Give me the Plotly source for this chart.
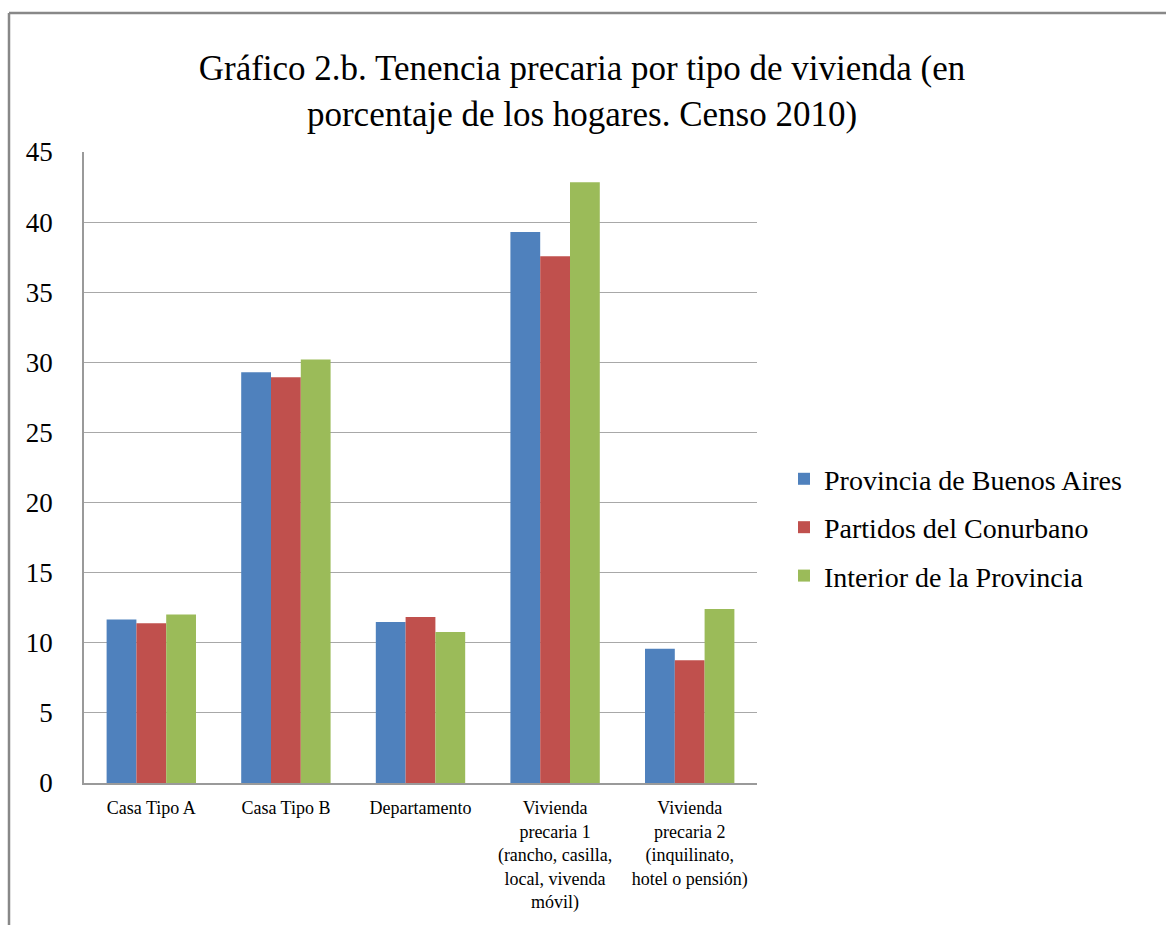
import plotly.graph_objects as go

categories = [
    "Casa Tipo A",
    "Casa Tipo B",
    "Departamento",
    "Vivienda<br>precaria 1<br>(rancho, casilla,<br>local, vivenda<br>móvil)",
    "Vivienda<br>precaria 2<br>(inquilinato,<br>hotel o pensión)",
]
series_names = ["Provincia de Buenos Aires", "Partidos del Conurbano", "Interior de la Provincia"]
provincia = [11.66, 29.29, 11.49, 39.29, 9.57]
conurbano = [11.40, 28.94, 11.84, 37.57, 8.75]
interior = [12.01, 30.21, 10.76, 42.84, 12.41]
colors = ["#4F81BD", "#C0504D", "#9BBB59"]
y_ticks = [0, 5, 10, 15, 20, 25, 30, 35, 40, 45]

FONT = "Liberation Serif, Times New Roman, serif"

fig = go.Figure()
for name, vals, col in zip(series_names, [provincia, conurbano, interior], colors):
    fig.add_trace(go.Bar(x=categories, y=vals, name=name, marker_color=col,
                         marker_line_width=0, legendgroup=name))

L, R, T, B = 84, 757, 152, 787
W, H = 1166, 925
pw, ph = R - L, B - T

def px_x(x):
    return (x - L) / pw

def px_y(y):
    return (B - y) / ph

fig.update_layout(
    width=W, height=H,
    margin=dict(l=L, r=W - R, t=T, b=H - B, pad=0),
    paper_bgcolor="white", plot_bgcolor="white",
    barmode="group", bargap=0.336, bargroupgap=0,
    font=dict(family=FONT, color="black"),
    title=dict(text="Gráfico 2.b. Tenencia precaria por tipo de vivienda (en<br>porcentaje de los hogares. Censo 2010)",
               x=582 / W, xanchor="center", y=1 - 80 / H, yanchor="middle",
               font=dict(family=FONT, size=35, color="black")),
    legend=dict(x=px_x(784), xanchor="left", y=px_y(456), yanchor="top",
                font=dict(family=FONT, size=28, color="black"),
                tracegroupgap=9, bgcolor="rgba(0,0,0,0)", itemwidth=30),
    showlegend=True,
)
fig.update_xaxes(showgrid=False, showline=True, linecolor="#9a9a9a", linewidth=1.5,
                 tickfont=dict(family=FONT, size=18, color="black"), ticks="",
                 tickangle=0, ticklabelstandoff=8)
fig.update_yaxes(range=[0, 45], tickvals=y_ticks, showgrid=True, gridcolor="#a8a8a8", gridwidth=1.3,
                 showline=True, linecolor="#9a9a9a", linewidth=1.5, zeroline=False,
                 tickfont=dict(family=FONT, size=27, color="black"), ticks="",
                 ticklabelstandoff=24)

# outer chart frame (left and top edges visible)
fig.add_shape(type="line", xref="paper", yref="paper", x0=px_x(9), x1=px_x(9), y0=px_y(12), y1=px_y(930),
              line=dict(color="#888888", width=2.5))
fig.add_shape(type="line", xref="paper", yref="paper", x0=px_x(9), x1=px_x(1170), y0=px_y(12), y1=px_y(12),
              line=dict(color="#888888", width=2.5))

fig.write_html("out.html", config={"displayModeBar": False},
               post_script="document.body.style.margin='0';document.body.style.overflow='hidden';")
